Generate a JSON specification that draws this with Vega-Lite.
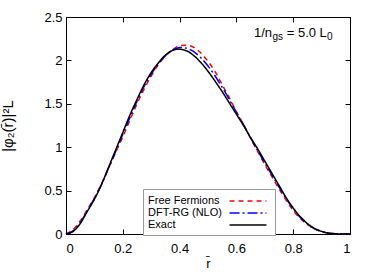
{
  "$schema": "https://vega.github.io/schema/vega-lite/v6.json",
  "autosize": "none",
  "width": 284,
  "height": 217,
  "padding": {"left": 66, "top": 17, "right": 24, "bottom": 43},
  "background": "white",
  "config": {
    "font": "Liberation Sans",
    "view": {"stroke": "#000000", "strokeWidth": 1},
    "axis": {"grid": false, "domain": false, "tickColor": "#000000", "tickSize": -5, "labelFont": "Liberation Sans", "labelFontSize": 13, "labelColor": "#000000", "titleFont": "Liberation Sans", "titleFontWeight": "normal", "titleColor": "#000000"}
  },
  "datasets": {
    "curves": [
      {"s": "Free Fermions", "x": 0.0, "y": 0.0},
      {"s": "Free Fermions", "x": 0.025, "y": 0.05},
      {"s": "Free Fermions", "x": 0.05, "y": 0.15},
      {"s": "Free Fermions", "x": 0.075, "y": 0.28},
      {"s": "Free Fermions", "x": 0.1, "y": 0.42},
      {"s": "Free Fermions", "x": 0.125, "y": 0.58},
      {"s": "Free Fermions", "x": 0.15, "y": 0.76},
      {"s": "Free Fermions", "x": 0.175, "y": 0.94},
      {"s": "Free Fermions", "x": 0.2, "y": 1.12},
      {"s": "Free Fermions", "x": 0.225, "y": 1.31},
      {"s": "Free Fermions", "x": 0.25, "y": 1.5},
      {"s": "Free Fermions", "x": 0.275, "y": 1.67},
      {"s": "Free Fermions", "x": 0.3, "y": 1.82},
      {"s": "Free Fermions", "x": 0.325, "y": 1.95},
      {"s": "Free Fermions", "x": 0.35, "y": 2.05},
      {"s": "Free Fermions", "x": 0.375, "y": 2.12},
      {"s": "Free Fermions", "x": 0.4, "y": 2.17},
      {"s": "Free Fermions", "x": 0.425, "y": 2.175},
      {"s": "Free Fermions", "x": 0.45, "y": 2.15},
      {"s": "Free Fermions", "x": 0.475, "y": 2.085},
      {"s": "Free Fermions", "x": 0.5, "y": 1.99},
      {"s": "Free Fermions", "x": 0.525, "y": 1.87},
      {"s": "Free Fermions", "x": 0.55, "y": 1.72},
      {"s": "Free Fermions", "x": 0.575, "y": 1.57},
      {"s": "Free Fermions", "x": 0.6, "y": 1.41},
      {"s": "Free Fermions", "x": 0.625, "y": 1.26},
      {"s": "Free Fermions", "x": 0.65, "y": 1.1},
      {"s": "Free Fermions", "x": 0.675, "y": 0.95},
      {"s": "Free Fermions", "x": 0.7, "y": 0.8},
      {"s": "Free Fermions", "x": 0.725, "y": 0.66},
      {"s": "Free Fermions", "x": 0.75, "y": 0.52},
      {"s": "Free Fermions", "x": 0.775, "y": 0.39},
      {"s": "Free Fermions", "x": 0.8, "y": 0.27},
      {"s": "Free Fermions", "x": 0.825, "y": 0.18},
      {"s": "Free Fermions", "x": 0.85, "y": 0.11},
      {"s": "Free Fermions", "x": 0.875, "y": 0.06},
      {"s": "Free Fermions", "x": 0.9, "y": 0.03},
      {"s": "Free Fermions", "x": 0.925, "y": 0.01},
      {"s": "Free Fermions", "x": 0.95, "y": 0.003},
      {"s": "Free Fermions", "x": 1.0, "y": 0.0},
      {"s": "DFT-RG (NLO)", "x": 0.0, "y": 0.0},
      {"s": "DFT-RG (NLO)", "x": 0.025, "y": 0.035},
      {"s": "DFT-RG (NLO)", "x": 0.05, "y": 0.13},
      {"s": "DFT-RG (NLO)", "x": 0.075, "y": 0.27},
      {"s": "DFT-RG (NLO)", "x": 0.1, "y": 0.41},
      {"s": "DFT-RG (NLO)", "x": 0.125, "y": 0.57},
      {"s": "DFT-RG (NLO)", "x": 0.15, "y": 0.76},
      {"s": "DFT-RG (NLO)", "x": 0.175, "y": 0.95},
      {"s": "DFT-RG (NLO)", "x": 0.2, "y": 1.15},
      {"s": "DFT-RG (NLO)", "x": 0.225, "y": 1.34},
      {"s": "DFT-RG (NLO)", "x": 0.25, "y": 1.53},
      {"s": "DFT-RG (NLO)", "x": 0.275, "y": 1.7},
      {"s": "DFT-RG (NLO)", "x": 0.3, "y": 1.84},
      {"s": "DFT-RG (NLO)", "x": 0.325, "y": 1.96},
      {"s": "DFT-RG (NLO)", "x": 0.35, "y": 2.055},
      {"s": "DFT-RG (NLO)", "x": 0.375, "y": 2.12},
      {"s": "DFT-RG (NLO)", "x": 0.4, "y": 2.15},
      {"s": "DFT-RG (NLO)", "x": 0.425, "y": 2.14},
      {"s": "DFT-RG (NLO)", "x": 0.45, "y": 2.1},
      {"s": "DFT-RG (NLO)", "x": 0.475, "y": 2.03},
      {"s": "DFT-RG (NLO)", "x": 0.5, "y": 1.935},
      {"s": "DFT-RG (NLO)", "x": 0.525, "y": 1.82},
      {"s": "DFT-RG (NLO)", "x": 0.55, "y": 1.69},
      {"s": "DFT-RG (NLO)", "x": 0.575, "y": 1.55},
      {"s": "DFT-RG (NLO)", "x": 0.6, "y": 1.4},
      {"s": "DFT-RG (NLO)", "x": 0.625, "y": 1.26},
      {"s": "DFT-RG (NLO)", "x": 0.65, "y": 1.11},
      {"s": "DFT-RG (NLO)", "x": 0.675, "y": 0.96},
      {"s": "DFT-RG (NLO)", "x": 0.7, "y": 0.82},
      {"s": "DFT-RG (NLO)", "x": 0.725, "y": 0.68},
      {"s": "DFT-RG (NLO)", "x": 0.75, "y": 0.54},
      {"s": "DFT-RG (NLO)", "x": 0.775, "y": 0.41},
      {"s": "DFT-RG (NLO)", "x": 0.8, "y": 0.29},
      {"s": "DFT-RG (NLO)", "x": 0.825, "y": 0.19},
      {"s": "DFT-RG (NLO)", "x": 0.85, "y": 0.115},
      {"s": "DFT-RG (NLO)", "x": 0.875, "y": 0.06},
      {"s": "DFT-RG (NLO)", "x": 0.9, "y": 0.03},
      {"s": "DFT-RG (NLO)", "x": 0.925, "y": 0.01},
      {"s": "DFT-RG (NLO)", "x": 0.95, "y": 0.003},
      {"s": "DFT-RG (NLO)", "x": 1.0, "y": 0.0},
      {"s": "Exact", "x": 0.0, "y": 0.0},
      {"s": "Exact", "x": 0.025, "y": 0.03},
      {"s": "Exact", "x": 0.05, "y": 0.12},
      {"s": "Exact", "x": 0.075, "y": 0.26},
      {"s": "Exact", "x": 0.1, "y": 0.4},
      {"s": "Exact", "x": 0.125, "y": 0.57},
      {"s": "Exact", "x": 0.15, "y": 0.77},
      {"s": "Exact", "x": 0.175, "y": 0.97},
      {"s": "Exact", "x": 0.2, "y": 1.17},
      {"s": "Exact", "x": 0.225, "y": 1.37},
      {"s": "Exact", "x": 0.25, "y": 1.55},
      {"s": "Exact", "x": 0.275, "y": 1.72},
      {"s": "Exact", "x": 0.3, "y": 1.86},
      {"s": "Exact", "x": 0.325, "y": 1.97},
      {"s": "Exact", "x": 0.35, "y": 2.06},
      {"s": "Exact", "x": 0.375, "y": 2.115},
      {"s": "Exact", "x": 0.395, "y": 2.13},
      {"s": "Exact", "x": 0.425, "y": 2.11},
      {"s": "Exact", "x": 0.45, "y": 2.055},
      {"s": "Exact", "x": 0.475, "y": 1.975},
      {"s": "Exact", "x": 0.5, "y": 1.875},
      {"s": "Exact", "x": 0.525, "y": 1.76},
      {"s": "Exact", "x": 0.55, "y": 1.64},
      {"s": "Exact", "x": 0.575, "y": 1.51},
      {"s": "Exact", "x": 0.6, "y": 1.38},
      {"s": "Exact", "x": 0.625, "y": 1.25},
      {"s": "Exact", "x": 0.65, "y": 1.11},
      {"s": "Exact", "x": 0.675, "y": 0.98},
      {"s": "Exact", "x": 0.7, "y": 0.84},
      {"s": "Exact", "x": 0.725, "y": 0.7},
      {"s": "Exact", "x": 0.75, "y": 0.56},
      {"s": "Exact", "x": 0.775, "y": 0.42},
      {"s": "Exact", "x": 0.8, "y": 0.3},
      {"s": "Exact", "x": 0.825, "y": 0.2},
      {"s": "Exact", "x": 0.85, "y": 0.12},
      {"s": "Exact", "x": 0.875, "y": 0.065},
      {"s": "Exact", "x": 0.9, "y": 0.03},
      {"s": "Exact", "x": 0.925, "y": 0.01},
      {"s": "Exact", "x": 0.95, "y": 0.003},
      {"s": "Exact", "x": 0.975, "y": 0.0},
      {"s": "Exact", "x": 1.0, "y": 0.0}
    ]
  },
  "layer": [
    {
      "data": {"name": "curves"},
      "mark": {"type": "line", "strokeWidth": 1.5, "interpolate": "monotone"},
      "encoding": {
        "x": {"field": "x", "type": "quantitative", "scale": {"domain": [0, 1], "nice": false},
              "axis": {"orient": "bottom", "values": [0, 0.2, 0.4, 0.6, 0.8, 1], "format": "~g", "labelPadding": 13, "title": "r̄", "titleFontSize": 13, "titleY": 29, "titleBaseline": "middle"}},
        "y": {"field": "y", "type": "quantitative", "scale": {"domain": [0, 2.5], "nice": false},
              "axis": {"orient": "left", "values": [0, 0.5, 1, 1.5, 2, 2.5], "format": "~g", "labelPadding": 9, "title": "|φ₂(r̄)|²L", "titleFontSize": 15, "titlePadding": 28}},
        "color": {"field": "s", "type": "nominal",
                  "scale": {"domain": ["Free Fermions", "DFT-RG (NLO)", "Exact"], "range": ["#ff0000", "#0000ff", "#000000"]},
                  "legend": {"orient": "none", "legendX": 77, "legendY": 172, "title": null, "symbolType": "M12.42,0H18.58", "symbolSize": 144, "symbolStrokeWidth": 1.5, "labelOffset": -14, "labelFontSize": 11, "labelFont": "Liberation Sans", "labelColor": "#000000", "labelLimit": 200, "fillColor": "#ffffff", "strokeColor": "#999999", "padding": 5, "rowPadding": 0}},
        "strokeDash": {"field": "s", "type": "nominal",
                  "scale": {"domain": ["Free Fermions", "DFT-RG (NLO)", "Exact"], "range": [[5, 4], [10, 3, 2, 3], [1, 0]]},
                  "legend": {"orient": "none", "legendX": 77, "legendY": 172, "title": null, "symbolType": "M12.42,0H18.58", "symbolSize": 144, "symbolStrokeWidth": 1.5, "labelOffset": -14, "labelFontSize": 11, "labelFont": "Liberation Sans", "labelColor": "#000000", "labelLimit": 200, "fillColor": "#ffffff", "strokeColor": "#999999", "padding": 5, "rowPadding": 0}}
      }
    },
    {
      "data": {"values": [{"x": 0.662, "y": 2.31, "t": "1/n"}]},
      "mark": {"type": "text", "align": "left", "baseline": "middle", "fontSize": 13, "font": "Liberation Sans", "color": "#000000"},
      "encoding": {
        "x": {"field": "x", "type": "quantitative", "axis": {"orient": "top", "values": [0, 0.2, 0.4, 0.6, 0.8, 1], "labels": false, "title": null}},
        "y": {"field": "y", "type": "quantitative", "axis": {"orient": "right", "values": [0, 0.5, 1, 1.5, 2, 2.5], "labels": false, "title": null}},
        "text": {"field": "t"}
      }
    },
    {
      "data": {"values": [{"x": 0.662, "y": 2.31, "t": "gs"}]},
      "mark": {"type": "text", "align": "left", "baseline": "middle", "fontSize": 10, "font": "Liberation Sans", "color": "#000000", "dx": 18.5, "dy": 4},
      "encoding": {
        "x": {"field": "x", "type": "quantitative", "axis": null},
        "y": {"field": "y", "type": "quantitative", "axis": null},
        "text": {"field": "t"}
      }
    },
    {
      "data": {"values": [{"x": 0.662, "y": 2.31, "t": "= 5.0 L"}]},
      "mark": {"type": "text", "align": "left", "baseline": "middle", "fontSize": 13, "font": "Liberation Sans", "color": "#000000", "dx": 32.7},
      "encoding": {
        "x": {"field": "x", "type": "quantitative", "axis": null},
        "y": {"field": "y", "type": "quantitative", "axis": null},
        "text": {"field": "t"}
      }
    },
    {
      "data": {"values": [{"x": 0.662, "y": 2.31, "t": "0"}]},
      "mark": {"type": "text", "align": "left", "baseline": "middle", "fontSize": 10, "font": "Liberation Sans", "color": "#000000", "dx": 73, "dy": 4},
      "encoding": {
        "x": {"field": "x", "type": "quantitative", "axis": null},
        "y": {"field": "y", "type": "quantitative", "axis": null},
        "text": {"field": "t"}
      }
    }
  ]
}
